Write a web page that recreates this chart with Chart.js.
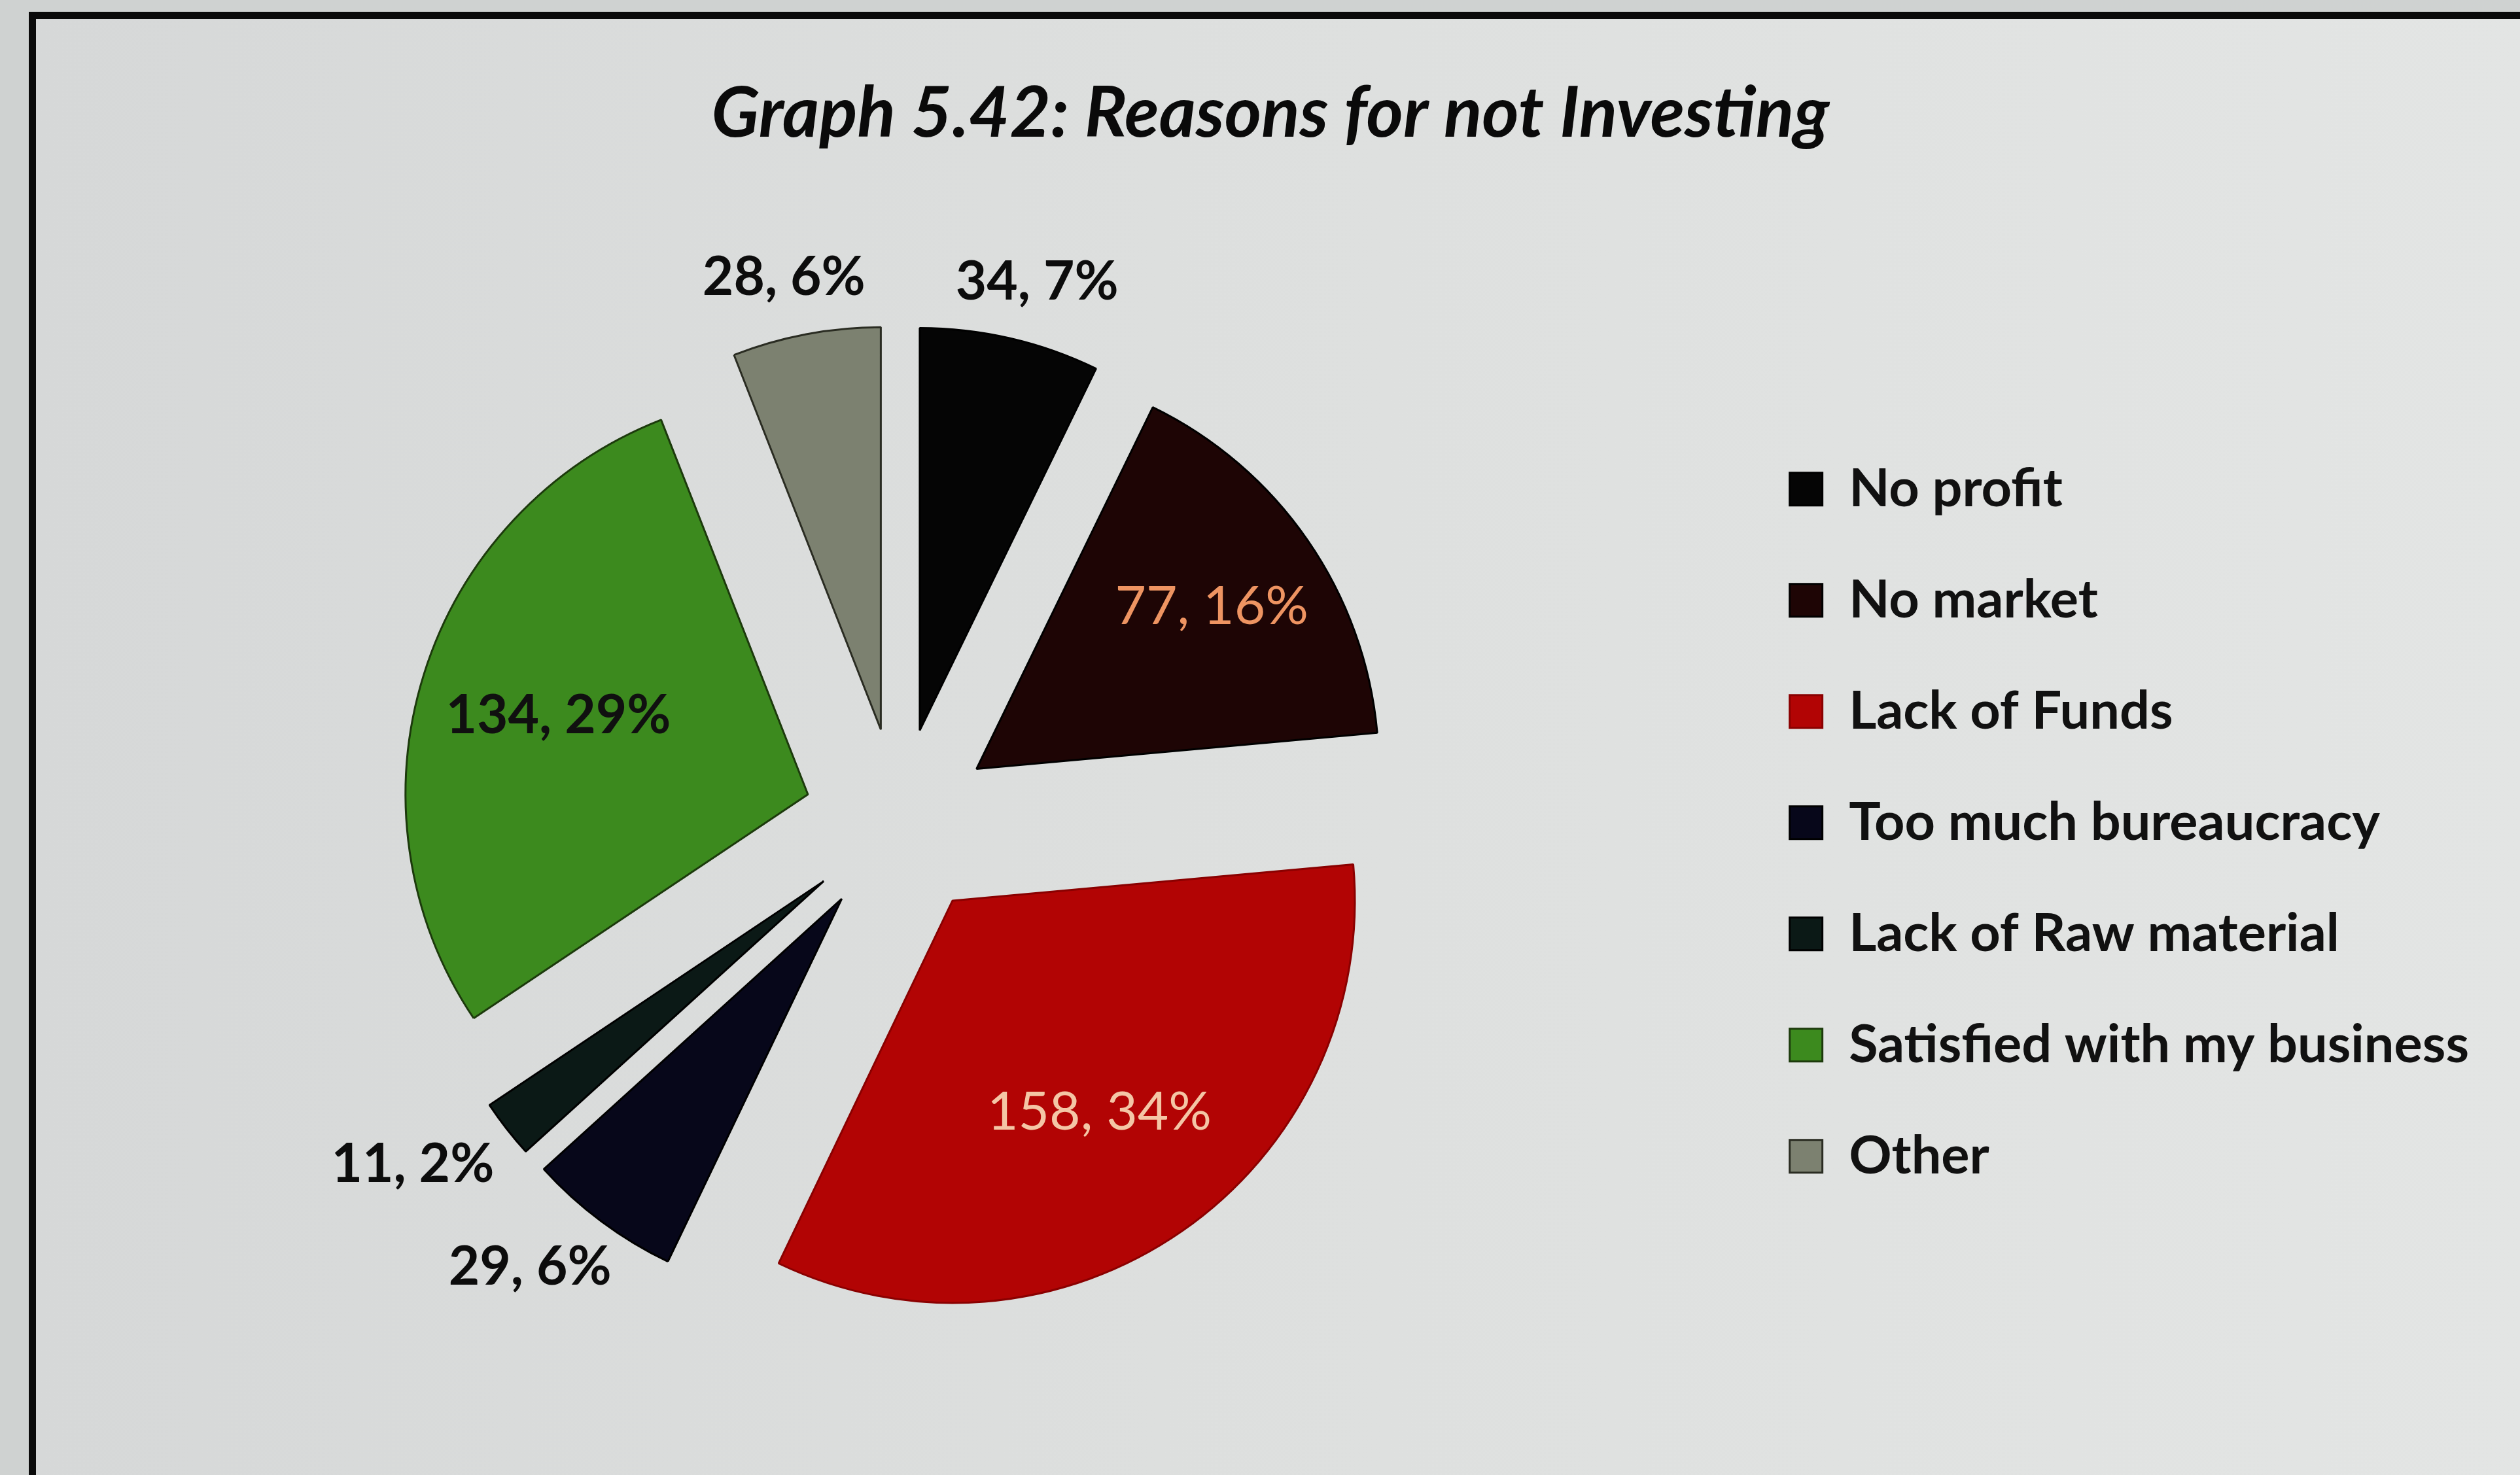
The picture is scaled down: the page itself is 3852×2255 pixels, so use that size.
<!DOCTYPE html>
<html>
<head>
<meta charset="utf-8">
<title>Reasons for not Investing</title>
<script src="https://cdn.jsdelivr.net/npm/chart.js@4.4.1/dist/chart.umd.min.js"></script>
<style>
  html, body { margin: 0; padding: 0; width: 3852px; height: 2255px; overflow: hidden; background: #cfd2d1; }
  #frame {
    position: absolute; left: 44px; top: 18px; width: 3808px; height: 2237px;
    border-left: 11px solid #0a0a0a; border-top: 11px solid #0a0a0a;
    background: linear-gradient(90deg, #d6d8d8 0%, #dddfde 45%, #e3e5e4 100%);
  }
  #wrap { position: absolute; left: 0; top: 0; width: 3852px; height: 2255px; }
</style>
</head>
<body>
<div id="frame"></div>
<div id="wrap"><canvas id="chart"></canvas></div>
<script>
// Survey answers: why respondents are not investing
const categories = [
  'No profit',
  'No market',
  'Lack of Funds',
  'Too much bureaucracy',
  'Lack of Raw material',
  'Satisfied with my business',
  'Other'
];
const counts = [34, 77, 158, 29, 11, 134, 28];
// Percentages as printed on the slice labels
const percents = [7, 16, 34, 6, 2, 29, 6];

const sliceColors = ['#050505', '#1e0505', '#b20404', '#07071a', '#0b1916', '#3c8a1e', '#7c8170'];
const edgeColors  = ['#000000', '#000000', '#8a0000', '#000000', '#000000', '#1c3a0c', '#2a2c22'];

// Label styling per slice: where the label sits and how it is coloured
const labelPlace  = ['out', 'in', 'in', 'out', 'out', 'in', 'out'];
const labelDepth  = [0, 0.71, 0.64, 0, 0, 0.65, 0];   // fraction of the radius for inside labels
const labelColor  = ['#0c0c0c', '#ee9462', '#f4c6a6', '#0c0c0c', '#0c0c0c', '#101010', '#0c0c0c'];
const labelWeight = ['bold', 'normal', 'normal', 'bold', 'bold', 'bold', 'bold'];

// Distance every slice is pulled out from the centre (exploded pie)
const EXPLODE = 145;

// Draws each arc shifted outwards along its bisector, keeping one common radius
const explodedPie = {
  id: 'explodedPie',
  beforeDatasetDraw(chart, args) {
    const ctx = chart.ctx;
    args.meta.data.forEach((arc) => {
      const mid = (arc.startAngle + arc.endAngle) / 2;
      ctx.save();
      ctx.translate(Math.cos(mid) * EXPLODE, Math.sin(mid) * EXPLODE);
      arc.draw(ctx);
      ctx.restore();
    });
    return false;
  }
};

// "value, percent" labels, inside the big slices and just outside the small ones
const sliceLabels = {
  id: 'sliceLabels',
  afterDatasetsDraw(chart) {
    const ctx = chart.ctx;
    const meta = chart.getDatasetMeta(0);
    const data = chart.data.datasets[0].data;
    ctx.save();
    ctx.textAlign = 'center';
    ctx.textBaseline = 'middle';
    meta.data.forEach((arc, i) => {
      const p = arc.getProps(['x', 'y', 'startAngle', 'endAngle', 'outerRadius'], true);
      const mid = (p.startAngle + p.endAngle) / 2;
      const dx = Math.cos(mid), dy = Math.sin(mid);
      const text = data[i] + ', ' + percents[i] + '%';
      ctx.font = labelWeight[i] + ' 82px Lato';
      const w = ctx.measureText(text).width;
      const h = 60;
      let x, y;
      if (labelPlace[i] === 'in') {
        const r = EXPLODE + p.outerRadius * labelDepth[i];
        x = p.x + dx * r; y = p.y + dy * r;
      } else {
        const r = EXPLODE + p.outerRadius + 58;
        x = p.x + dx * r + dx * w / 2;
        y = p.y + dy * r + dy * h / 2;
      }
      ctx.fillStyle = labelColor[i];
      ctx.fillText(text, x, y);
    });
    ctx.restore();
  }
};

new Chart(document.getElementById('chart'), {
  type: 'pie',
  data: {
    labels: categories,
    datasets: [{
      data: counts,
      backgroundColor: sliceColors,
      borderColor: edgeColors,
      borderWidth: 3,
      radius: 615
    }]
  },
  options: {
    responsive: true,
    maintainAspectRatio: false,
    animation: false,
    layout: { padding: { left: 100, right: 68, top: 0, bottom: 18 } },
    plugins: {
      title: {
        display: true,
        text: 'Graph 5.42: Reasons for not Investing',
        color: '#0a0a0a',
        font: { family: 'Lato', size: 108, weight: 'bold', style: 'italic', lineHeight: 1.2 },
        padding: { top: 109, bottom: 40 }
      },
      legend: {
        position: 'right',
        align: 'center',
        fullSize: false,
        labels: {
          color: '#111111',
          font: { family: 'Lato', size: 81, weight: 'bold' },
          boxWidth: 50,
          boxHeight: 50,
          padding: 89
        }
      },
      tooltip: { enabled: false }
    }
  },
  plugins: [explodedPie, sliceLabels]
});
</script>
</body>
</html>
